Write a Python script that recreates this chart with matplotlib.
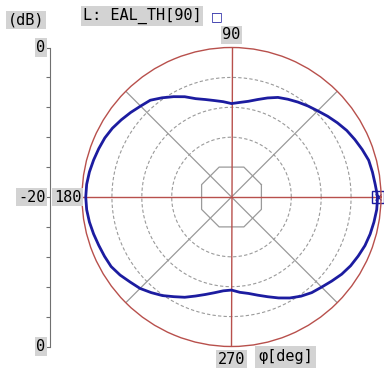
import matplotlib.pyplot as plt
import numpy as np

# directivity pattern, L: EAL_TH[90]
phi_deg = list(range(0, 361, 5))
level_db = [-0.45, -0.7, -0.85, -1.0, -1.4, -1.8, -2.2, -2.7, -3.2, -3.7,
            -4.1, -4.5, -4.9, -5.3, -5.9, -6.5, -7.0, -7.3, -7.5,
            -7.2, -6.9, -6.5, -6.0, -5.2, -4.5, -3.8, -3.1, -2.8, -2.4,
            -2.0, -1.6, -1.3, -1.1, -0.9, -0.7, -0.55, -0.5,
            -0.55, -0.7, -0.9, -1.1, -1.25, -1.4, -1.8, -2.3, -2.7,
            -3.3, -3.9, -4.6, -5.2, -5.9, -6.5, -7.0, -7.4, -7.55,
            -7.2, -6.9, -6.4, -5.8, -5.1, -4.4, -3.8, -3.3, -2.95,
            -2.5, -2.0, -1.6, -1.3, -1.0, -0.8, -0.65, -0.5, -0.45]
r_min, r_max = -20, 0
ring_db = [-12, -8, -4]
inner_db = -16
scale_ticks = [-20, -16, -12, -8, -4, 0, 4, 8, 12, 16, 20]

RED = '#B8504C'
GRAY = '#9A9A9A'
BLUE = '#1C1CA0'
BG = '#D3D3D3'
FONT = 'DejaVu Sans Mono'
box = dict(boxstyle='square,pad=0.1', facecolor=BG, edgecolor='none')

W, H = 384, 369
fig = plt.figure(figsize=(W / 100, H / 100), dpi=100)
cx, cy, R = 231.5, 197.0, 149.5
pos = [(cx - R) / W, (H - cy - R) / H, 2 * R / W, 2 * R / H]

ax = fig.add_axes(pos, projection='polar')
ax.set_ylim(r_min, r_max)
ax.set_yticks(ring_db)
ax.set_yticklabels([])
ax.set_xticks(np.deg2rad([45, 135, 225, 315]))
ax.set_xticklabels([])
ax.tick_params(length=0)
ax.grid(False)

# rings
t = np.linspace(0, 2 * np.pi, 361)
for rd in ring_db:
    ax.plot(t, [rd] * len(t), ls=(0, (3, 2)), color=GRAY, lw=0.8)
oct_t = np.deg2rad(np.arange(22.5, 383, 45))
oct_r = r_min + (inner_db - r_min) / np.cos(np.deg2rad(22.5))
ax.plot(oct_t, [oct_r] * len(oct_t), color=GRAY, lw=0.9)

# spokes
for a in [45, 135]:
    ax.plot(np.deg2rad([a, a + 180]), [r_max, r_max], color=GRAY, lw=0.9)
for a in [0, 90]:
    ax.plot(np.deg2rad([a, a + 180]), [r_max, r_max], color=RED, lw=1.0)
ax.spines['polar'].set_color(RED)
ax.spines['polar'].set_linewidth(1.0)

ax.plot(np.deg2rad(phi_deg), level_db, color=BLUE, lw=2.0)
ax.plot(np.deg2rad(phi_deg[0]), level_db[0], marker='s', ms=8, mfc='none',
        mec=BLUE, mew=1.0, clip_on=False)
ax.plot(np.deg2rad(phi_deg[0]), level_db[0], marker='x', ms=5, color=BLUE,
        mew=0.8, clip_on=False)

ax.text(np.pi / 2, 1.7, '90', ha='center', va='center', fontsize=11,
        family=FONT, bbox=box, clip_on=False)
ax.text(3 * np.pi / 2, 1.7, '270', ha='center', va='center', fontsize=11,
        family=FONT, bbox=box, clip_on=False)
ax.text(np.pi, 0.1, '180', ha='right', va='center', fontsize=11,
        family=FONT, bbox=box, clip_on=False)
fig.text(258 / W, 1 - 357 / H, 'φ[deg]', ha='left', va='center', fontsize=11,
         family=FONT, bbox=dict(boxstyle='square,pad=0.2', facecolor=BG,
                                edgecolor='none'))

# dB scale on the left
sx = fig.add_axes([50 / W, pos[1], 0.001, pos[3]])
sx.set_ylim(scale_ticks[0], scale_ticks[-1])
sx.set_yticks(scale_ticks)
sx.set_yticklabels([''] * len(scale_ticks))
sx.set_xticks([])
for s in ['top', 'right', 'bottom']:
    sx.spines[s].set_visible(False)
sx.spines['left'].set_color('#707070')
sx.spines['left'].set_linewidth(0.8)
sx.tick_params(axis='y', length=3, width=0.8, color='#707070', pad=0)
for yv, lab in [(20, '0'), (0, '-20'), (-20, '0')]:
    sx.text(-12, yv, lab, transform=sx.get_yaxis_transform(), ha='right',
            va='center', fontsize=11, family=FONT, bbox=box, clip_on=False)

fig.text(8 / W, 1 - 20 / H, '(dB)', ha='left', va='center', fontsize=11,
         family=FONT, bbox=box)
fig.text(83 / W, 1 - 16 / H, 'L: EAL_TH[90]', ha='left', va='center',
         fontsize=11, family=FONT, bbox=box)
fig.text(217 / W, 1 - 17 / H, '□', ha='center', va='center', fontsize=9,
         color=BLUE, family='DejaVu Sans')

fig.savefig('out.png', dpi=100, facecolor='white')
